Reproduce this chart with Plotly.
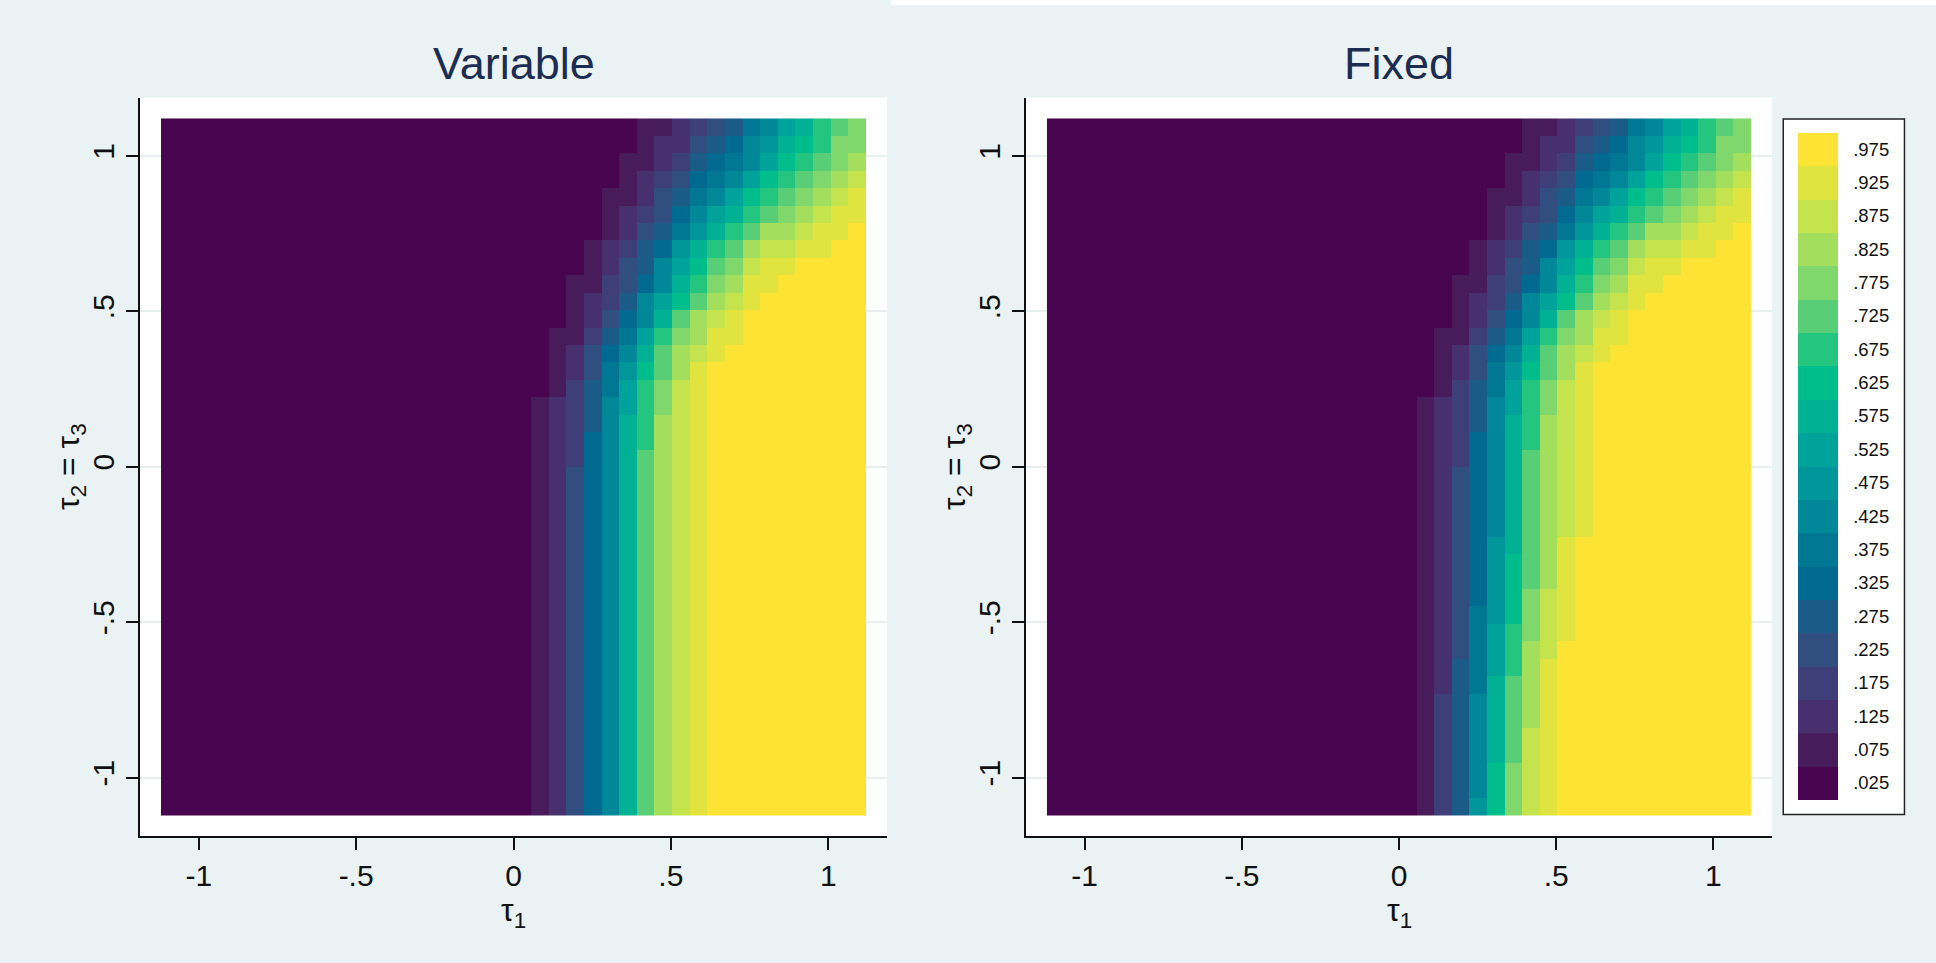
import plotly.graph_objects as go

# ---------------- data ----------------
# cell centres of the tau grid (same grid on both axes), left->right / bottom->top
TAU = [-1.092, -1.036, -0.980, -0.924, -0.868, -0.812, -0.756, -0.700, -0.644, -0.588,
       -0.532, -0.476, -0.420, -0.364, -0.308, -0.252, -0.196, -0.140, -0.084, -0.028,
       0.028, 0.084, 0.140, 0.196, 0.252, 0.308, 0.364, 0.420, 0.476, 0.532,
       0.588, 0.644, 0.700, 0.756, 0.812, 0.868, 0.924, 0.980, 1.036, 1.092]

# legend classes (bin midpoints) and their labels
LEVELS = [0.025, 0.075, 0.125, 0.175, 0.225, 0.275, 0.325, 0.375, 0.425, 0.475,
          0.525, 0.575, 0.625, 0.675, 0.725, 0.775, 0.825, 0.875, 0.925, 0.975]
LEVEL_LABELS = [".025", ".075", ".125", ".175", ".225", ".275", ".325", ".375", ".425", ".475",
                ".525", ".575", ".625", ".675", ".725", ".775", ".825", ".875", ".925", ".975"]

# each row = one tau2 value (top row first), each char = class index (0-9, A-J) per tau1 column
VARIABLE_ROWS = [
    "000000000000000000000000000" + "11234578ABDEF",
    "000000000000000000000000000" + "12245689BCDFF",
    "00000000000000000000000000" + "11235678ACDEFG",
    "00000000000000000000000000" + "1234678ACDEFGH",
    "0000000000000000000000000" + "1124578ACDEFGHI",
    "0000000000000000000000000" + "123468ABDEFGHII",
    "0000000000000000000000000" + "124579BDEGGHIIJ",
    "000000000000000000000000" + "123569BDEGHHIIJJ",
    "000000000000000000000000" + "12458ACEFHIIJJJJ",
    "00000000000000000000000" + "113468BDFGIIJJJJJ",
    "00000000000000000000000" + "12358ACEGHIJJJJJJ",
    "00000000000000000000000" + "12468BEGHIJJJJJJJ",
    "0000000000000000000000" + "11357ADFGIIJJJJJJJ",
    "0000000000000000000000" + "12468BEGHIJJJJJJJJ",
    "0000000000000000000000" + "12479CEGIJJJJJJJJJ",
    "0000000000000000000000" + "1357ADFHIJJJJJJJJJ",
    "000000000000000000000" + "12358ADFHIJJJJJJJJJ",
    "000000000000000000000" + "12358BDGHIJJJJJJJJJ",
    "000000000000000000000" + "12368BDGHIJJJJJJJJJ",
    "000000000000000000000" + "12368BEGHIJJJJJJJJJ",
    "000000000000000000000" + "12468BEGHIJJJJJJJJJ",
    "000000000000000000000" + "12468BEGHIJJJJJJJJJ",
    "000000000000000000000" + "12468BEGHIJJJJJJJJJ",
    "000000000000000000000" + "12468BEGHIJJJJJJJJJ",
    "000000000000000000000" + "12468BEGHIJJJJJJJJJ",
    "000000000000000000000" + "12468BEGHIJJJJJJJJJ",
    "000000000000000000000" + "12468BEGHIJJJJJJJJJ",
    "000000000000000000000" + "12468BEGHIJJJJJJJJJ",
    "000000000000000000000" + "12468BEGHIJJJJJJJJJ",
    "000000000000000000000" + "12468BEGHIJJJJJJJJJ",
    "000000000000000000000" + "12468BEGHIJJJJJJJJJ",
    "000000000000000000000" + "12468BEGHIJJJJJJJJJ",
    "000000000000000000000" + "12468BEGHIJJJJJJJJJ",
    "000000000000000000000" + "12468BEGHIJJJJJJJJJ",
    "000000000000000000000" + "12468BEGHIJJJJJJJJJ",
    "000000000000000000000" + "12468BEGHIJJJJJJJJJ",
    "000000000000000000000" + "12468BEGHIJJJJJJJJJ",
    "000000000000000000000" + "12468BEGHIJJJJJJJJJ",
    "000000000000000000000" + "12468BEGHIJJJJJJJJJ",
    "000000000000000000000" + "12468BEGHIJJJJJJJJJ",
]

FIXED_ROWS = [
    "000000000000000000000000000" + "11234578ABDEF",
    "000000000000000000000000000" + "12245689BCDFF",
    "00000000000000000000000000" + "11235678ACDEFG",
    "00000000000000000000000000" + "1234678ACDEFGH",
    "0000000000000000000000000" + "1124578ACDEFGHI",
    "0000000000000000000000000" + "123468ABDEFGHII",
    "0000000000000000000000000" + "124579BDEGGHIIJ",
    "000000000000000000000000" + "123569BDEGHHIIJJ",
    "000000000000000000000000" + "12458ACEFHIIJJJJ",
    "00000000000000000000000" + "113468BDFGIIJJJJJ",
    "00000000000000000000000" + "12358ACEGHIJJJJJJ",
    "00000000000000000000000" + "12468BEGHIJJJJJJJ",
    "0000000000000000000000" + "11357ADFGIIJJJJJJJ",
    "0000000000000000000000" + "12468BEGHIJJJJJJJJ",
    "0000000000000000000000" + "12479CEGIJJJJJJJJJ",
    "0000000000000000000000" + "1357ADFHIJJJJJJJJJ",
    "000000000000000000000" + "12358ADFHIJJJJJJJJJ",
    "000000000000000000000" + "12358BDGHIJJJJJJJJJ",
    "000000000000000000000" + "12368BDGHIJJJJJJJJJ",
    "000000000000000000000" + "12368BEGHIJJJJJJJJJ",
    "000000000000000000000" + "12468BEGHIJJJJJJJJJ",
    "000000000000000000000" + "12468BEGHIJJJJJJJJJ",
    "000000000000000000000" + "12468BEGHIJJJJJJJJJ",
    "000000000000000000000" + "12468BEGHIJJJJJJJJJ",
    "000000000000000000000" + "12469BEGIJJJJJJJJJJ",
    "000000000000000000000" + "12469CEGIJJJJJJJJJJ",
    "000000000000000000000" + "12469CEGIJJJJJJJJJJ",
    "000000000000000000000" + "12469CFHIJJJJJJJJJJ",
    "000000000000000000000" + "12479CFHIJJJJJJJJJJ",
    "000000000000000000000" + "1247ADFHIJJJJJJJJJJ",
    "000000000000000000000" + "1247ADGHJJJJJJJJJJJ",
    "000000000000000000000" + "1257ADGIJJJJJJJJJJJ",
    "000000000000000000000" + "1257BEGIJJJJJJJJJJJ",
    "000000000000000000000" + "1358BEGIJJJJJJJJJJJ",
    "000000000000000000000" + "1358BEGIJJJJJJJJJJJ",
    "000000000000000000000" + "1358BEHIJJJJJJJJJJJ",
    "000000000000000000000" + "1358BEHIJJJJJJJJJJJ",
    "000000000000000000000" + "1358CFHIJJJJJJJJJJJ",
    "000000000000000000000" + "1358CFHIJJJJJJJJJJJ",
    "000000000000000000000" + "1359CFHIJJJJJJJJJJJ",
]

X_TICKS = [-1, -0.5, 0, 0.5, 1]
X_TICK_LABELS = ["-1", "-.5", "0", ".5", "1"]
PANEL_TITLES = ["Variable", "Fixed"]

# ---------------- styling ----------------
PALETTE = ["#47044F", "#481B5B", "#46306E", "#3E3F79", "#304F80", "#1A5B88", "#006A90",
           "#007893", "#008798", "#00969A", "#00A39A", "#00B194", "#00BE8B", "#23C57F",
           "#58CF76", "#80D76B", "#A3DE5C", "#C5E34C", "#E1E43E", "#FDE333"]
CODES = "0123456789ABCDEFGHIJ"


def decode(rows):
    z = [[LEVELS[CODES.index(ch)] for ch in r] for r in rows]
    return z[::-1]  # bottom row first, matching ascending TAU


colorscale = []
for k, c in enumerate(PALETTE):
    colorscale.append([k / 20, c])
    colorscale.append([(k + 1) / 20, c])

W, H = 1936, 963
BG = "#EAF2F3"
FONT = "Liberation Sans, Arial, Helvetica, sans-serif"


def px(x):
    return x / W


def py(y):
    return 1 - y / H


fig = go.Figure()
fig.add_trace(go.Heatmap(x=TAU, y=TAU, z=decode(VARIABLE_ROWS), zmin=0, zmax=1,
                         colorscale=colorscale, showscale=False, xaxis="x", yaxis="y",
                         hoverongaps=False))
fig.add_trace(go.Heatmap(
    x=TAU, y=TAU, z=decode(FIXED_ROWS), zmin=0, zmax=1, colorscale=colorscale,
    xaxis="x2", yaxis="y2", showscale=True,
    colorbar=dict(
        thickness=40, thicknessmode="pixels", len=694, lenmode="pixels",
        x=px(1784), xanchor="left", y=py(466), yanchor="middle",
        xpad=14, ypad=13.5, outlinewidth=0, bgcolor="white",
        bordercolor="#222222", borderwidth=1.5,
        tickvals=LEVELS, ticktext=LEVEL_LABELS, ticks="outside", ticklen=12,
        tickcolor="rgba(0,0,0,0)",
        tickfont=dict(family=FONT, size=18.5, color="#111111"),
    )))

PLOT_TOP, PLOT_BOT = 97.5, 836
panels = [(140, 887), (1026, 1772)]
XR = [-1.1867, 1.1867]
YR = [-1.1875, 1.1875]

axis_common = dict(
    tickvals=X_TICKS, ticktext=X_TICK_LABELS, ticks="outside", ticklen=12, tickwidth=1.5,
    tickcolor="#111111", showline=True, linecolor="#111111", linewidth=1.5,
    zeroline=False, tickfont=dict(family=FONT, size=30, color="#111111"), fixedrange=True,
)

layout = dict(
    width=W, height=H, margin=dict(l=0, r=0, t=0, b=0),
    paper_bgcolor=BG, plot_bgcolor="white", showlegend=False,
    font=dict(family=FONT),
    shapes=[dict(type="rect", xref="paper", yref="paper", x0=px(891), x1=1, y0=py(5), y1=1,
                 fillcolor="white", line=dict(width=0), layer="below")],
)
for i, (l, r) in enumerate(panels):
    sx = "" if i == 0 else "2"
    layout["xaxis" + sx] = dict(axis_common, domain=[px(l), px(r)], range=XR,
                                anchor="y" + sx, showgrid=False)
    layout["yaxis" + sx] = dict(axis_common, domain=[py(PLOT_BOT), py(PLOT_TOP)], range=YR,
                                anchor="x" + sx, showgrid=True, gridcolor="#E8EFF1",
                                gridwidth=1.5, tickangle=-90)

fig.update_layout(**layout)

annotations = []
for i, (l, r) in enumerate(panels):
    cx = (l + r) / 2
    annotations.append(dict(text=PANEL_TITLES[i], x=px(cx), y=py(63), xref="paper", yref="paper",
                            showarrow=False, xanchor="center", yanchor="middle",
                            font=dict(family=FONT, size=45, color="#1C2D52")))
    annotations.append(dict(text="τ<sub>1</sub>", x=px(cx), y=py(912), xref="paper", yref="paper",
                            showarrow=False, xanchor="center", yanchor="middle",
                            font=dict(family=FONT, size=32, color="#111111")))
    annotations.append(dict(text="τ<sub>2</sub> = τ<sub>3</sub>", x=px(l - 70), y=py(467),
                            xref="paper", yref="paper", textangle=-90,
                            showarrow=False, xanchor="center", yanchor="middle",
                            font=dict(family=FONT, size=32, color="#111111")))
fig.update_layout(annotations=annotations)

fig.write_html("out.html", config={"displayModeBar": False},
               post_script="document.body.style.margin='0';document.body.style.overflow='hidden';")
